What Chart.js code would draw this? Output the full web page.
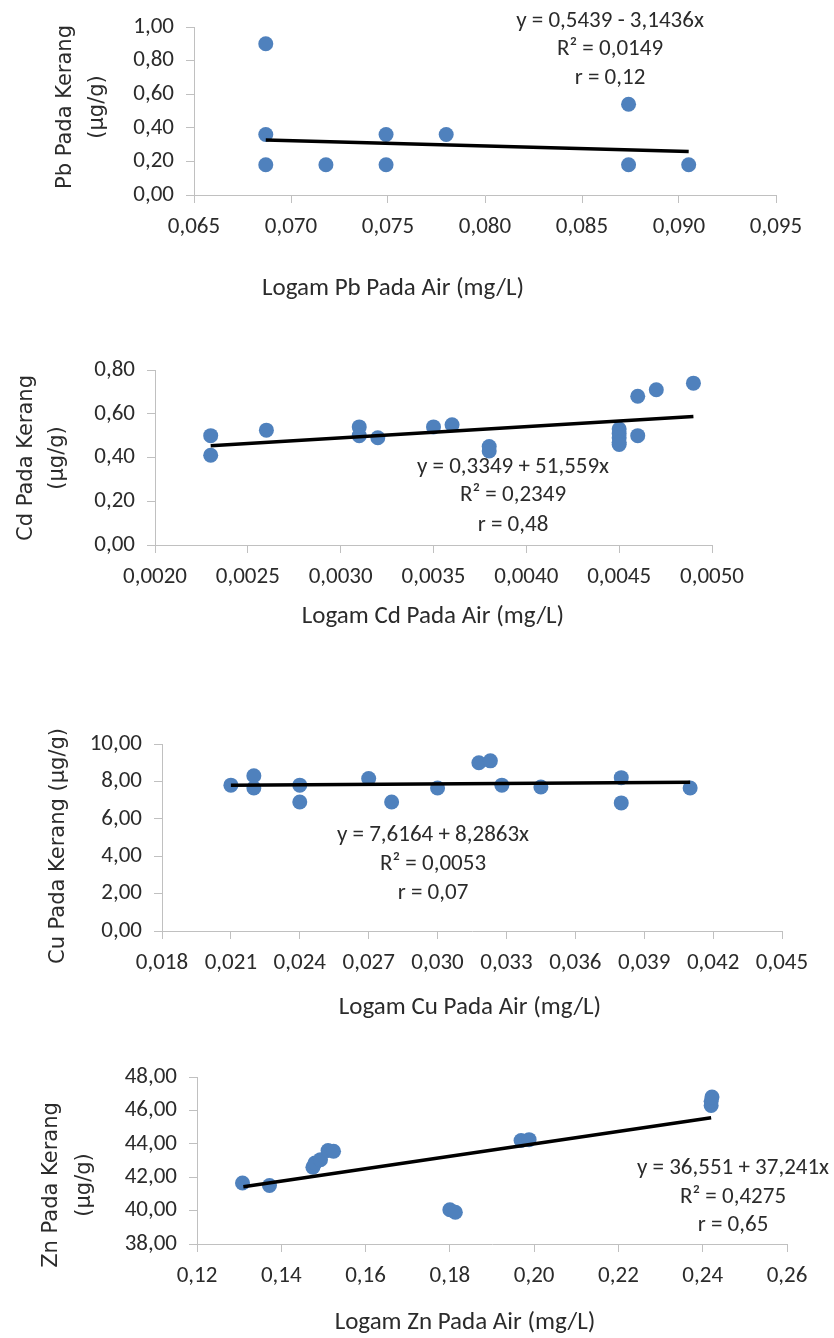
<!DOCTYPE html>
<html>
<head>
<meta charset="utf-8">
<script src="https://cdn.jsdelivr.net/npm/chart.js@4.4.1/dist/chart.umd.min.js"></script>
<style>
    body { margin: 0; background: #fff; }
    #page { position: relative; width: 834px; height: 1338px; overflow: hidden; }
    canvas { position: absolute; left: 0; }
</style>
</head>
<body>
<div id="page"></div>
<script>
// ---- Pb ----
const pbAir = [0.0687, 0.0687, 0.0687, 0.0718, 0.0749, 0.0749, 0.0780, 0.0874, 0.0874, 0.0905];
const pbKerang = [0.90, 0.36, 0.18, 0.18, 0.36, 0.18, 0.36, 0.54, 0.18, 0.18];
const pbTrendX = [0.0687, 0.0905];
const pbTrendY = [0.328, 0.259];
const pbXTicks = [0.065, 0.070, 0.075, 0.080, 0.085, 0.090, 0.095];
const pbYTicks = [0, 0.2, 0.4, 0.6, 0.8, 1.0];
const pbEq = ['y = 0,5439 - 3,1436x', 'R² = 0,0149', 'r = 0,12'];

// ---- Cd ----
const cdAir = [0.0023, 0.0023, 0.0026, 0.0031, 0.0031, 0.0032, 0.0035, 0.0036, 0.0038, 0.0038,
    0.0045, 0.0045, 0.0045, 0.0045, 0.0045, 0.0046, 0.0046, 0.0047, 0.0049];
const cdKerang = [0.50, 0.41, 0.525, 0.54, 0.50, 0.49, 0.54, 0.55, 0.45, 0.43,
    0.53, 0.51, 0.49, 0.47, 0.46, 0.68, 0.50, 0.71, 0.74];
const cdTrendX = [0.0023, 0.0049];
const cdTrendY = [0.4535, 0.5875];
const cdXTicks = [0.0020, 0.0025, 0.0030, 0.0035, 0.0040, 0.0045, 0.0050];
const cdYTicks = [0, 0.2, 0.4, 0.6, 0.8];
const cdEq = ['y = 0,3349 + 51,559x', 'R² = 0,2349', 'r = 0,48'];

// ---- Cu ----
const cuAir = [0.021, 0.022, 0.022, 0.024, 0.024, 0.027, 0.028, 0.030, 0.0318, 0.0323, 0.0328, 0.0345, 0.038, 0.038, 0.041];
const cuKerang = [7.80, 8.30, 7.65, 7.80, 6.90, 8.15, 6.90, 7.65, 9.00, 9.10, 7.80, 7.70, 8.20, 6.85, 7.65];
const cuTrendX = [0.021, 0.041];
const cuTrendY = [7.79, 7.96];
const cuXTicks = [0.018, 0.021, 0.024, 0.027, 0.030, 0.033, 0.036, 0.039, 0.042, 0.045];
const cuYTicks = [0, 2, 4, 6, 8, 10];
const cuEq = ['y = 7,6164 + 8,2863x', 'R² = 0,0053', 'r = 0,07'];

// ---- Zn ----
const znAir = [0.1308, 0.1372, 0.1475, 0.1480, 0.1493, 0.1511, 0.1524, 0.1800, 0.1813, 0.1969, 0.1988, 0.2420, 0.2420, 0.2422];
const znKerang = [41.65, 41.50, 42.60, 42.85, 43.05, 43.60, 43.55, 40.05, 39.90, 44.20, 44.25, 46.30, 46.55, 46.80];
const znTrendX = [0.131, 0.242];
const znTrendY = [41.43, 45.56];
const znXTicks = [0.12, 0.14, 0.16, 0.18, 0.20, 0.22, 0.24, 0.26];
const znYTicks = [38, 40, 42, 44, 46, 48];
const znEq = ['y = 36,551 + 37,241x', 'R² = 0,4275', 'r = 0,65'];

const BLUE = '#4F81BD';
const AXIS = '#c0c0c0';
const TEXT = '#2b2b2b';
const TICK_FONT = 'Carlito, Lato, sans-serif';

Chart.defaults.font.family = TICK_FONT;
Chart.defaults.font.size = 23;
Chart.defaults.color = TEXT;

const fmt = (v, d) => v.toFixed(d).replace('.', ',');

// draws axis titles and the regression text
const textPlugin = {
    id: 'texts',
    afterDraw(chart, args, o) {
        const ctx = chart.ctx;
        ctx.save();
        ctx.fillStyle = TEXT;
        ctx.textAlign = 'center';
        ctx.textBaseline = 'middle';

        ctx.font = '23px ' + TICK_FONT;
        o.eq.forEach((t, i) => ctx.fillText(t, o.eqX, o.eqY[i]));

        ctx.font = '25px ' + TICK_FONT;
        ctx.fillText(o.xTitle, o.xTitleX, o.xTitleY);

        ctx.font = '21px "DejaVu Sans"';
        o.yTitle.forEach((t, i) => {
            ctx.save();
            ctx.translate(o.yTitleX[i], o.yTitleY);
            ctx.rotate(-Math.PI / 2);
            ctx.fillText(t, 0, 0);
            ctx.restore();
        });
        ctx.restore();
    }
};

function makeChart(c) {
    const canvas = document.createElement('canvas');
    canvas.width = 834;
    canvas.height = c.height;
    canvas.style.top = c.top + 'px';
    document.getElementById('page').appendChild(canvas);

    const points = c.x.map((v, i) => ({x: v, y: c.y[i]}));
    const trend = c.trendX.map((v, i) => ({x: v, y: c.trendY[i]}));

    return new Chart(canvas, {
        type: 'scatter',
        data: {
            datasets: [
                {
                    type: 'line',
                    data: trend,
                    borderColor: '#000',
                    borderWidth: 3.5,
                    pointRadius: 0,
                    order: 0
                },
                {
                    data: points,
                    backgroundColor: BLUE,
                    borderWidth: 0,
                    pointRadius: 7.5,
                    order: 1
                }
            ]
        },
        options: {
            responsive: false,
            animation: false,
            devicePixelRatio: 1,
            layout: {padding: {left: 0, top: c.area.top, right: 834 - c.area.right, bottom: 0}},
            plugins: {
                legend: {display: false},
                tooltip: {enabled: false},
                texts: c.texts
            },
            scales: {
                x: {
                    type: 'linear',
                    min: c.xTicks[0],
                    max: c.xTicks[c.xTicks.length - 1],
                    afterBuildTicks: s => { s.ticks = c.xTicks.map(v => ({value: v})); },
                    afterFit: s => { s.height = c.height - c.area.bottom; },
                    ticks: {callback: v => fmt(v, c.xDec), padding: 10, maxRotation: 0, autoSkip: false},
                    grid: {drawOnChartArea: false, tickLength: 8, color: AXIS},
                    border: {color: AXIS, width: 1}
                },
                y: {
                    type: 'linear',
                    min: c.yTicks[0],
                    max: c.yTicks[c.yTicks.length - 1],
                    afterBuildTicks: s => { s.ticks = c.yTicks.map(v => ({value: v})); },
                    afterFit: s => { s.width = c.area.left; },
                    ticks: {callback: v => fmt(v, 2), padding: 12},
                    grid: {drawOnChartArea: false, tickLength: 8, color: AXIS},
                    border: {color: AXIS, width: 1}
                }
            }
        },
        plugins: [textPlugin]
    });
}

makeChart({
    top: 0, height: 315,
    area: {left: 194, right: 776, top: 27, bottom: 195},
    x: pbAir, y: pbKerang, trendX: pbTrendX, trendY: pbTrendY,
    xTicks: pbXTicks, yTicks: pbYTicks, xDec: 3,
    texts: {
        eq: pbEq, eqX: 610, eqY: [21, 49, 78],
        xTitle: 'Logam Pb Pada Air (mg/L)', xTitleX: 393, xTitleY: 289,
        yTitle: ['Pb Pada Kerang', '(µg/g)'], yTitleX: [66, 98], yTitleY: 107
    }
});

makeChart({
    top: 320, height: 320,
    area: {left: 155, right: 712, top: 50, bottom: 225},
    x: cdAir, y: cdKerang, trendX: cdTrendX, trendY: cdTrendY,
    xTicks: cdXTicks, yTicks: cdYTicks, xDec: 4,
    texts: {
        eq: cdEq, eqX: 513, eqY: [147, 175, 205],
        xTitle: 'Logam Cd Pada Air (mg/L)', xTitleX: 433, xTitleY: 297,
        yTitle: ['Cd Pada Kerang', '(µg/g)'], yTitleX: [27, 58], yTitleY: 138
    }
});

makeChart({
    top: 700, height: 330,
    area: {left: 162, right: 782, top: 44, bottom: 231},
    x: cuAir, y: cuKerang, trendX: cuTrendX, trendY: cuTrendY,
    xTicks: cuXTicks, yTicks: cuYTicks, xDec: 3,
    texts: {
        eq: cuEq, eqX: 433, eqY: [135, 164, 193],
        xTitle: 'Logam Cu Pada Air (mg/L)', xTitleX: 470, xTitleY: 308,
        yTitle: ['Cu Pada Kerang (µg/g)'], yTitleX: [59], yTitleY: 146
    }
});

makeChart({
    top: 1040, height: 298,
    area: {left: 197, right: 787, top: 37, bottom: 204},
    x: znAir, y: znKerang, trendX: znTrendX, trendY: znTrendY,
    xTicks: znXTicks, yTicks: znYTicks, xDec: 2,
    texts: {
        eq: znEq, eqX: 733, eqY: [128, 157, 185],
        xTitle: 'Logam Zn Pada Air (mg/L)', xTitleX: 465, xTitleY: 283,
        yTitle: ['Zn Pada Kerang', '(µg/g)'], yTitleX: [52, 85], yTitleY: 145
    }
});
</script>
</body>
</html>
